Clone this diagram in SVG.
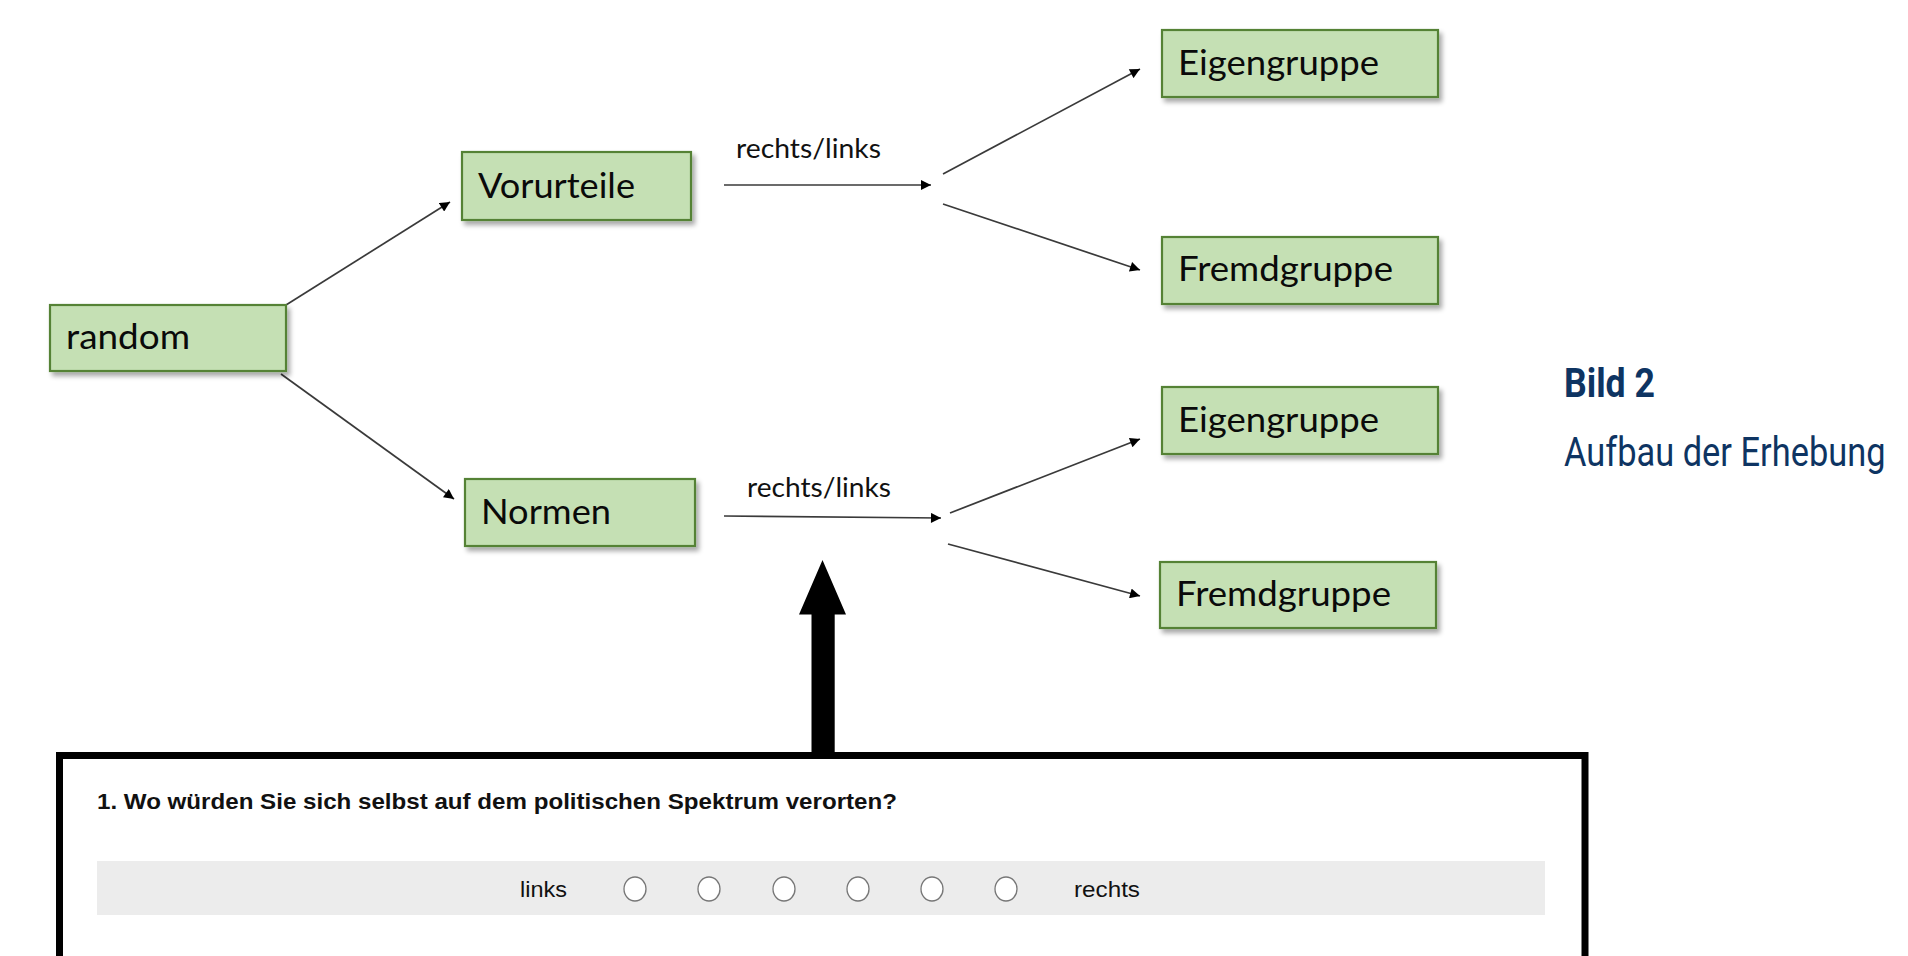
<svg xmlns="http://www.w3.org/2000/svg" width="1908" height="956" viewBox="0 0 1908 956">
<defs>
<style>
.box{fill:#c5e0b4;stroke:#548235;stroke-width:2.2;filter:url(#sh)}
.bt{font-family:Lato,"Open Sans",sans-serif;font-size:35px;fill:#0a0a0a}
.lbl{font-family:Lato,"Open Sans",sans-serif;font-size:27px;fill:#111}
.con{stroke:#3a3a3a;stroke-width:1.7;fill:none;marker-end:url(#ah)}
.q{font-family:"Liberation Sans",Arial,sans-serif;fill:#111}
.rad{fill:#fff;stroke:#777;stroke-width:1.3}
.cap{font-family:Roboto,"Liberation Sans",sans-serif;fill:#0e3462;font-size:40px}
</style>
<filter id="sh" x="-10%" y="-20%" width="130%" height="160%">
<feGaussianBlur in="SourceAlpha" stdDeviation="2.5"/>
<feOffset dx="3" dy="4" result="b"/>
<feComponentTransfer><feFuncA type="linear" slope="0.35"/></feComponentTransfer>
<feMerge><feMergeNode/><feMergeNode in="SourceGraphic"/></feMerge>
</filter>
<marker id="ah" viewBox="0 0 10 10" refX="10" refY="5" markerWidth="11" markerHeight="10" markerUnits="userSpaceOnUse" orient="auto"><path d="M0,0 L10,5 L0,10 z" fill="#000"/></marker>
</defs>
<rect width="1908" height="956" fill="#fff"/>

<g id="connectors">
<line class="con" x1="286" y1="305" x2="450" y2="202"/>
<line class="con" x1="281" y1="374" x2="454" y2="499"/>
<line class="con" x1="724" y1="185" x2="931" y2="185"/>
<line class="con" x1="943" y1="174" x2="1140" y2="69"/>
<line class="con" x1="943" y1="204" x2="1140" y2="270"/>
<line class="con" x1="724" y1="516" x2="941" y2="518"/>
<line class="con" x1="950" y1="513" x2="1140" y2="439"/>
<line class="con" x1="948" y1="544" x2="1140" y2="596"/>
<text class="lbl" x="736" y="158" textLength="145" lengthAdjust="spacingAndGlyphs">rechts/links</text>
<text class="lbl" x="747" y="497" textLength="144" lengthAdjust="spacingAndGlyphs">rechts/links</text>
<polygon points="822.5,560 846,614.5 834.7,614.5 834.7,756 811.5,756 811.5,614.5 799,614.5" fill="#000"/>
</g>

<g id="n-random"><rect class="box" x="50" y="305" width="236" height="66"/><text class="bt" x="66" y="349" textLength="124" lengthAdjust="spacingAndGlyphs">random</text></g>
<g id="n-vorurteile"><rect class="box" x="462" y="152" width="229" height="68"/><text class="bt" x="478" y="198" textLength="157" lengthAdjust="spacingAndGlyphs">Vorurteile</text></g>
<g id="n-normen"><rect class="box" x="465" y="479" width="230" height="67"/><text class="bt" x="481" y="524" textLength="130" lengthAdjust="spacingAndGlyphs">Normen</text></g>
<g id="n-eigen1"><rect class="box" x="1162" y="30" width="276" height="67"/><text class="bt" x="1178" y="75" textLength="201" lengthAdjust="spacingAndGlyphs">Eigengruppe</text></g>
<g id="n-fremd1"><rect class="box" x="1162" y="237" width="276" height="67"/><text class="bt" x="1178" y="281" textLength="215" lengthAdjust="spacingAndGlyphs">Fremdgruppe</text></g>
<g id="n-eigen2"><rect class="box" x="1162" y="387" width="276" height="67"/><text class="bt" x="1178" y="432" textLength="201" lengthAdjust="spacingAndGlyphs">Eigengruppe</text></g>
<g id="n-fremd2"><rect class="box" x="1160" y="562" width="276" height="66"/><text class="bt" x="1176" y="606" textLength="215" lengthAdjust="spacingAndGlyphs">Fremdgruppe</text></g>

<g id="survey">
<rect x="59.5" y="755.5" width="1525.5" height="260" fill="#fff" stroke="#000" stroke-width="7"/>
<text class="q" x="97" y="809" font-size="22" font-weight="bold" textLength="800" lengthAdjust="spacingAndGlyphs">1. Wo würden Sie sich selbst auf dem politischen Spektrum verorten?</text>
<rect x="97" y="861" width="1448" height="54" fill="#ececec"/>
<text class="q" x="520" y="897" font-size="22" textLength="47" lengthAdjust="spacingAndGlyphs">links</text>
<ellipse class="rad" cx="635" cy="889" rx="11" ry="12"/>
<ellipse class="rad" cx="709" cy="889" rx="11" ry="12"/>
<ellipse class="rad" cx="784" cy="889" rx="11" ry="12"/>
<ellipse class="rad" cx="858" cy="889" rx="11" ry="12"/>
<ellipse class="rad" cx="932" cy="889" rx="11" ry="12"/>
<ellipse class="rad" cx="1006" cy="889" rx="11" ry="12"/>
<text class="q" x="1074" y="897" font-size="22" textLength="66" lengthAdjust="spacingAndGlyphs">rechts</text>
</g>

<g id="caption">
<text class="cap" x="1564" y="397" font-weight="bold" textLength="91" lengthAdjust="spacingAndGlyphs">Bild 2</text>
<g transform="translate(1564,466) scale(0.86,1)"><text class="cap" x="0" y="0">Aufbau der Erhebung</text></g>
</g>
</svg>
